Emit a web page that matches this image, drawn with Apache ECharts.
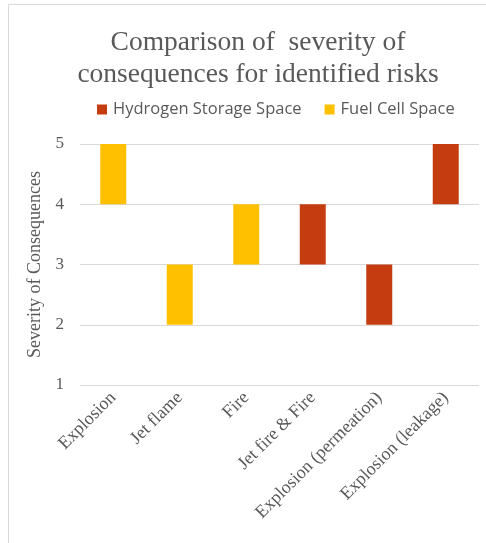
<!DOCTYPE html>
<html>
<head>
<meta charset="utf-8">
<script src="https://cdn.jsdelivr.net/npm/echarts@6/dist/echarts.min.js"></script>
<style>
  html, body { margin: 0; padding: 0; background: #ffffff; }
  #chart { width: 486px; height: 543px; }
</style>
</head>
<body>
<div id="chart"></div>
<script>
// Risk scenarios on the category axis
const categories = ['Explosion', 'Jet flame', 'Fire', 'Jet fire & Fire', 'Explosion (permeation)', 'Explosion (leakage)'];

// Severity ranges [from, to] per scenario for each space (null = not applicable)
const fuelCellRange = [[4, 5], [2, 3], [3, 4], null, null, null];
const hydrogenRange = [null, null, null, [3, 4], [2, 3], [4, 5]];

// Severity scale tick labels
const severityTicks = [1, 2, 3, 4, 5];

// Floating bars are built as a stack: an invisible base up to the lower bound,
// then the visible span on top.
const base = categories.map((_, i) => {
  const r = fuelCellRange[i] || hydrogenRange[i];
  return r ? r[0] : null;
});
const fuelSpan = fuelCellRange.map(r => (r ? r[1] - r[0] : null));
const hydroSpan = hydrogenRange.map(r => (r ? r[1] - r[0] : null));

const grey = '#595959';
const serif = '"Liberation Serif", "DejaVu Serif", serif';

const chart = echarts.init(document.getElementById('chart'), null, { renderer: 'canvas' });
chart.setOption({
  animation: false,
  backgroundColor: '#ffffff',
  title: {
    text: 'Comparison of  severity of\nconsequences for identified risks',
    left: 253,
    textAlign: 'center',
    top: 22,
    textStyle: {
      fontFamily: serif,
      fontWeight: 'normal',
      fontSize: 27.5,
      lineHeight: 32,
      color: grey
    }
  },
  legend: {
    top: 101,
    left: 97,
    padding: 0,
    itemWidth: 10,
    itemHeight: 10,
    itemGap: 23,
    icon: 'rect',
    data: ['Hydrogen Storage Space', 'Fuel Cell Space'],
    textStyle: {
      fontFamily: '"Open Sans", "Liberation Sans", sans-serif',
      fontSize: 16.5,
      color: grey,
      padding: [0, 0, 0, 1]
    }
  },
  grid: {
    left: 80,
    right: 7,
    top: 144,
    bottom: 158,
    containLabel: false
  },
  xAxis: {
    type: 'category',
    data: categories,
    axisLine: { show: false },
    axisTick: { show: false },
    axisLabel: {
      interval: 0,
      rotate: 45,
      margin: 10,
      fontFamily: serif,
      fontSize: 18,
      color: grey
    }
  },
  yAxis: {
    type: 'value',
    min: severityTicks[0],
    max: severityTicks[severityTicks.length - 1],
    interval: 1,
    name: 'Severity of Consequences',
    nameLocation: 'middle',
    nameGap: 29,
    nameRotate: 90,
    nameTextStyle: {
      fontFamily: serif,
      fontSize: 18,
      color: grey
    },
    axisLine: { show: false },
    axisTick: { show: false },
    axisLabel: {
      margin: 16,
      fontFamily: serif,
      fontSize: 17,
      color: grey
    },
    splitLine: { lineStyle: { color: '#D9D9D9', width: 1 } }
  },
  series: [
    {
      name: 'base',
      type: 'bar',
      stack: 'range',
      data: base,
      barWidth: 26,
      itemStyle: { color: 'transparent' },
      silent: true,
      tooltip: { show: false }
    },
    {
      name: 'Hydrogen Storage Space',
      type: 'bar',
      stack: 'range',
      data: hydroSpan,
      barWidth: 26,
      itemStyle: { color: '#C43C10' }
    },
    {
      name: 'Fuel Cell Space',
      type: 'bar',
      stack: 'range',
      data: fuelSpan,
      barWidth: 26,
      itemStyle: { color: '#FFC000' }
    }
  ],
  graphic: [
    {
      type: 'polyline',
      silent: true,
      shape: { points: [[8.5, 543], [8.5, 4.5], [486, 4.5]] },
      style: { stroke: '#D9D9D9', lineWidth: 1, fill: null }
    }
  ]
});
</script>
</body>
</html>
